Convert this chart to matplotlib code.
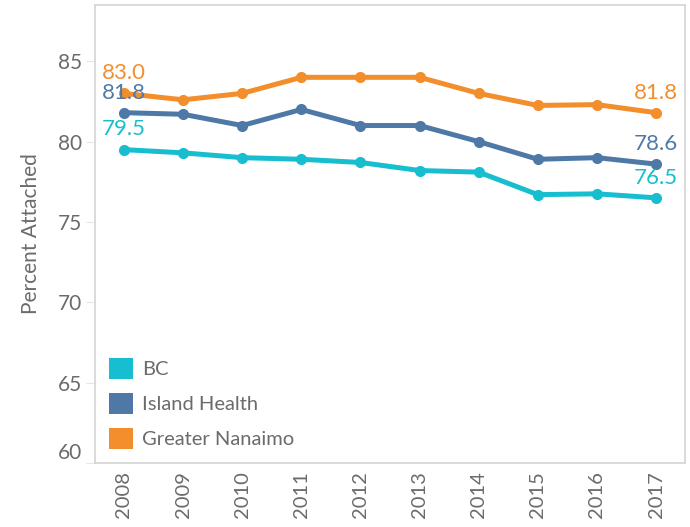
import matplotlib
matplotlib.use("Agg")
import matplotlib.pyplot as plt
from matplotlib.patches import Patch

plt.rcParams['font.family'] = ['Lato', 'DejaVu Sans']

years = ['2008', '2009', '2010', '2011', '2012', '2013', '2014', '2015', '2016', '2017']
series_names = ['BC', 'Island Health', 'Greater Nanaimo']
bc = [79.5, 79.3, 79.0, 78.9, 78.7, 78.2, 78.1, 76.7, 76.75, 76.5]
island_health = [81.8, 81.7, 81.0, 82.0, 81.0, 81.0, 80.0, 78.9, 79.0, 78.6]
greater_nanaimo = [83.0, 82.6, 83.0, 84.0, 84.0, 84.0, 83.0, 82.25, 82.3, 81.8]
yticks = [60, 65, 70, 75, 80, 85]

colors = ['#17becf', '#4e79a7', '#f28e2b']
gray = '#6b6b6b'

fig = plt.figure(figsize=(6.9, 5.27), dpi=100)
ax = fig.add_axes([95 / 690, 64 / 527, 590 / 690, 458 / 527])

x = list(range(len(years)))
for vals, c in zip([bc, island_health, greater_nanaimo], colors):
    ax.plot(x, vals, color=c, lw=3.6, marker='o', ms=7, solid_capstyle='round')
    # first and last value labels
    for i in (0, len(vals) - 1):
        ax.annotate(f"{vals[i]:.1f}", (x[i], vals[i]), xytext=(0, 14.5),
                    textcoords='offset points', ha='center', va='center',
                    color=c, fontsize=16)

ax.set_xlim(-0.49, len(years) - 0.51)
ax.set_ylim(60, 88.5)
ax.set_xticks(x)
ax.set_xticklabels(years, rotation=90, color=gray, fontsize=14.5)
ax.set_yticks(yticks)
ax.set_yticklabels([str(t) for t in yticks], color=gray, fontsize=15)
ax.yaxis.get_ticklabels()[0].set_verticalalignment('bottom')
ax.tick_params(axis='y', length=6.5, color='#e6e6e6', pad=3)
ax.tick_params(axis='x', length=0, pad=6)
ax.set_ylabel('Percent Attached', color=gray, fontsize=15, labelpad=12)

for s in ax.spines.values():
    s.set_color('#d4d4d4')
    s.set_linewidth(1.2)

handles = [Patch(facecolor=c, edgecolor='none') for c in colors]
ax.legend(handles, series_names, loc='lower left', bbox_to_anchor=(0.0, 0.0),
          frameon=False, fontsize=14.5, labelcolor=gray, handlelength=1.2,
          handleheight=1.2, handletextpad=0.45, labelspacing=0.72,
          borderaxespad=0.3)

fig.savefig('out.png', dpi=100)
